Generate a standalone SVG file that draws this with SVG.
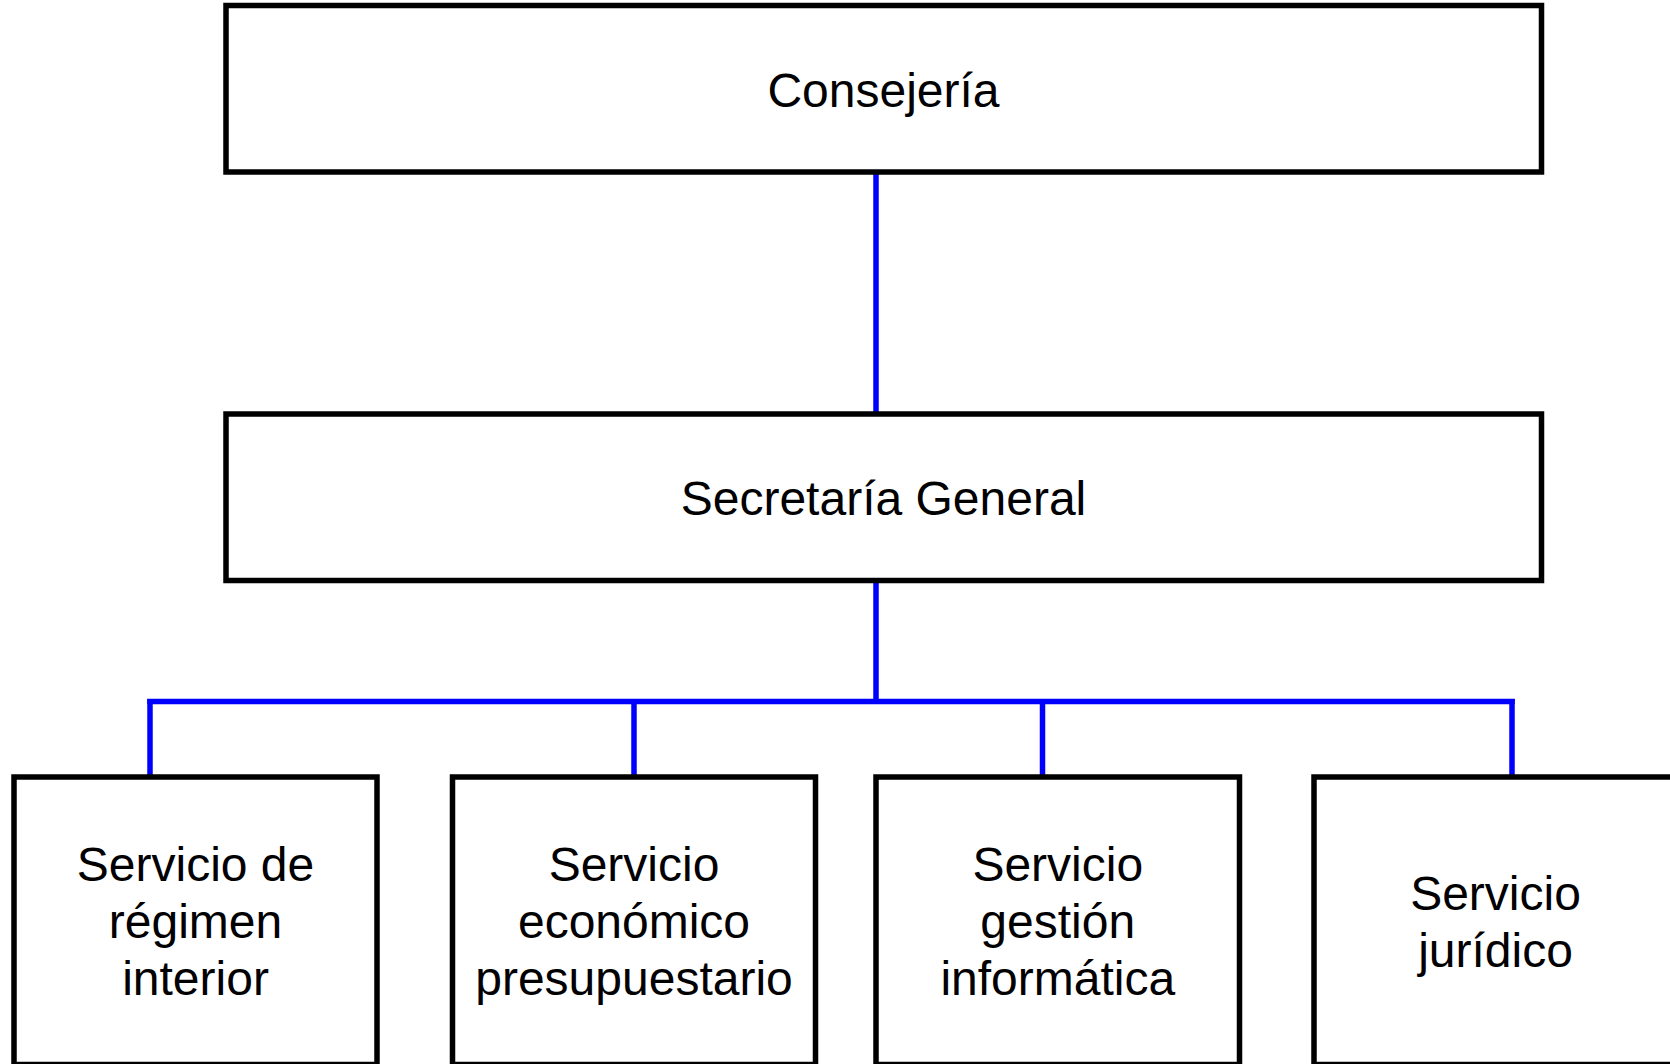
<svg xmlns="http://www.w3.org/2000/svg" width="1670" height="1064" viewBox="0 0 1670 1064">
<style>
.box{fill:#fff;stroke:#000;stroke-width:5.5}
.lbl{font-family:"Liberation Sans",Arial,sans-serif;font-size:48px;fill:#000;text-anchor:middle}
.con{stroke:#0000ff;stroke-width:5.5;fill:none}
</style>
<rect width="1670" height="1064" fill="#fff"/>
<g id="connectors">
<line class="con" x1="876" y1="172" x2="876" y2="414"/>
<line class="con" x1="876" y1="580.5" x2="876" y2="701.5"/>
<line class="con" x1="147.25" y1="701.5" x2="1514.75" y2="701.5"/>
<line class="con" x1="150" y1="699" x2="150" y2="777"/>
<line class="con" x1="634" y1="701.5" x2="634" y2="777"/>
<line class="con" x1="1042.5" y1="701.5" x2="1042.5" y2="777"/>
<line class="con" x1="1512" y1="699" x2="1512" y2="777"/>
</g>
<g id="consejeria">
<rect class="box" x="226" y="5.5" width="1315.5" height="166.5"/>
<text class="lbl" x="883.5" y="106.5">Consejería</text>
</g>
<g id="secretaria">
<rect class="box" x="226" y="414" width="1315.5" height="166.5"/>
<text class="lbl" x="883.5" y="515">Secretaría General</text>
</g>
<g id="regimen">
<rect class="box" x="14" y="777" width="363" height="287.5"/>
<text class="lbl" x="195.5" y="880.7">Servicio de</text>
<text class="lbl" x="195.5" y="938">régimen</text>
<text class="lbl" x="195.5" y="995">interior</text>
</g>
<g id="economico">
<rect class="box" x="452.5" y="777" width="363" height="287.5"/>
<text class="lbl" x="634" y="880.7">Servicio</text>
<text class="lbl" x="634" y="938">económico</text>
<text class="lbl" x="634" y="995">presupuestario</text>
</g>
<g id="informatica">
<rect class="box" x="876" y="777" width="363.5" height="287.5"/>
<text class="lbl" x="1057.75" y="880.7">Servicio</text>
<text class="lbl" x="1057.75" y="938">gestión</text>
<text class="lbl" x="1057.75" y="995">informática</text>
</g>
<g id="juridico">
<rect class="box" x="1314" y="777" width="363" height="287.5"/>
<text class="lbl" x="1495.5" y="910">Servicio</text>
<text class="lbl" x="1495.5" y="967">jurídico</text>
</g>
</svg>
